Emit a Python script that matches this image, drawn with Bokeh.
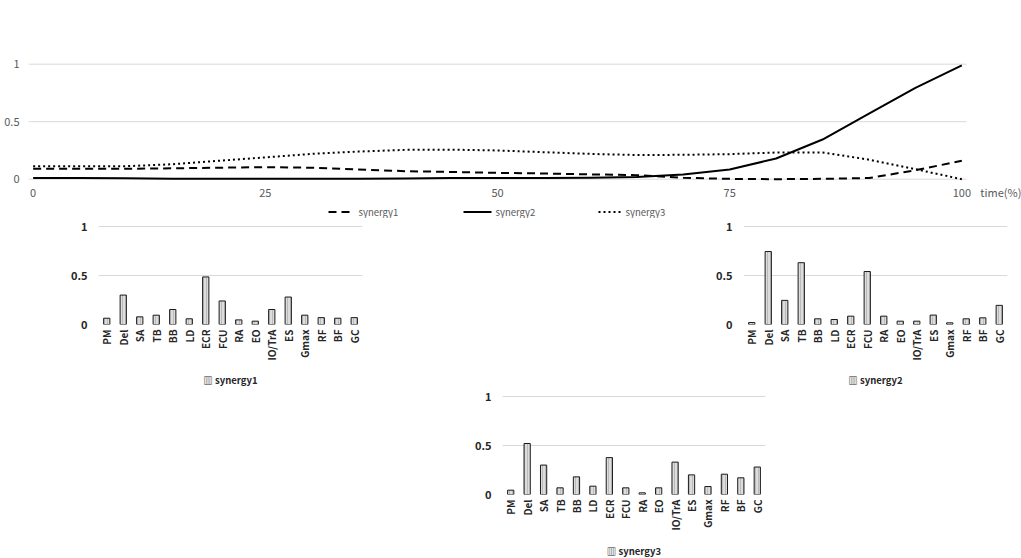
import math
from bokeh.plotting import figure
from bokeh.models import (Range1d, FactorRange, FixedTicker, CustomJSTickFormatter)
from bokeh.layouts import column, row
from bokeh.embed import file_html
from bokeh.resources import INLINE
from bokeh.core.properties import value

# ---------------- data ----------------
time_pct = [0, 5, 10, 15, 20, 25, 30, 35, 40, 45, 50, 55, 60, 65, 70, 75, 80, 85, 90, 95, 100]
synergy1_curve = [0.09, 0.09, 0.09, 0.095, 0.10, 0.105, 0.10, 0.085, 0.07, 0.063, 0.055,
                  0.05, 0.042, 0.035, 0.012, 0.003, 0.0, 0.003, 0.01, 0.078, 0.16]
synergy2_curve = [0.01, 0.01, 0.008, 0.005, 0.005, 0.005, 0.005, 0.005, 0.006, 0.01, 0.01,
                  0.01, 0.012, 0.02, 0.04, 0.085, 0.18, 0.345, 0.57, 0.795, 0.99]
synergy3_curve = [0.113, 0.113, 0.113, 0.13, 0.16, 0.19, 0.22, 0.24, 0.255, 0.257, 0.25,
                  0.235, 0.22, 0.21, 0.212, 0.218, 0.232, 0.232, 0.17, 0.087, 0.0]
time_ticks = [0, 25, 50, 75, 100]
time_title = "time(%)"
weight_ticks = [0, 0.5, 1]
series_names = ["synergy1", "synergy2", "synergy3"]

muscles = ["PM", "Del", "SA", "TB", "BB", "LD", "ECR", "FCU", "RA", "EO",
           "IO/TrA", "ES", "Gmax", "RF", "BF", "GC"]
synergy1_weights = [0.064, 0.30, 0.078, 0.095, 0.153, 0.058, 0.485, 0.24, 0.047, 0.034,
                    0.153, 0.28, 0.095, 0.07, 0.064, 0.07]
synergy2_weights = [0.02, 0.744, 0.246, 0.63, 0.058, 0.051, 0.085, 0.54, 0.085, 0.034,
                    0.034, 0.096, 0.017, 0.058, 0.068, 0.195]
synergy3_weights = [0.044, 0.52, 0.30, 0.068, 0.18, 0.085, 0.376, 0.068, 0.017, 0.068,
                    0.33, 0.20, 0.081, 0.207, 0.17, 0.28]

# ---------------- styles / layout constants ----------------
FONT = "Noto Sans CJK JP"
GRID = "#d9d9d9"
DASHES = ["8 5", "solid", "2 3"]
LEG_SAMPLE_X0 = [300, 435, 570]     # legend sample starts (px inside legend strip)
LEG_SAMPLE_LEN = [26, 28, 23]
LEG_TEXT_GAP = 4
LEG_Y = 6.5


def style_axis(ax, color, size, bold=False):
    ax.axis_line_color = None
    ax.major_tick_line_color = None
    ax.minor_tick_line_color = None
    ax.major_tick_out = 0
    ax.major_tick_in = 0
    ax.major_label_text_color = color
    ax.major_label_text_font = FONT
    ax.major_label_text_font_size = size
    if bold:
        ax.major_label_text_font_style = "bold"


# ---------------- top time-series chart ----------------
PX_PER_T = 9.287
FRAME_W = 993
x_end = FRAME_W / PX_PER_T - 0.5
top = figure(frame_width=FRAME_W, frame_height=120, min_border_left=28, min_border_right=0,
             min_border_top=61, min_border_bottom=18,
             x_range=Range1d(-0.5, x_end), y_range=Range1d(-0.02, 1.0235),
             output_backend="svg", toolbar_location=None, outline_line_color=None)
curves = [synergy1_curve, synergy2_curve, synergy3_curve]
for ys, dash in zip(curves, DASHES):
    top.line(time_pct, ys, line_color="black", line_width=2, line_dash=dash,
             line_join="round")

# gridlines limited to the time span
top.segment(x0=[time_pct[0] - 0.5] * len(weight_ticks), x1=[time_pct[-1] + 0.5] * len(weight_ticks),
            y0=weight_ticks, y1=weight_ticks, line_color=GRID, line_width=1, level="underlay")
top.grid.visible = False

title_pos = time_pct[-1] + 4.2
top.xaxis.ticker = FixedTicker(ticks=time_ticks + [title_pos])
top.xaxis.formatter = CustomJSTickFormatter(
    args=dict(title=time_title, tmax=time_pct[-1]),
    code="return tick > tmax ? title : tick.toString()")
top.yaxis.ticker = FixedTicker(ticks=weight_ticks)
top.yaxis.formatter = CustomJSTickFormatter(code="return tick.toString()")
style_axis(top.xaxis[0], "#595959", "11px")
style_axis(top.yaxis[0], "#595959", "11px")
top.xaxis.major_label_standoff = 2
top.yaxis.major_label_standoff = 9

# ---------------- legend strip for the top chart ----------------
leg = figure(frame_width=FRAME_W, frame_height=16, min_border_left=28, min_border_right=0,
             min_border_top=0, min_border_bottom=0,
             x_range=Range1d(0, FRAME_W), y_range=Range1d(0, 16),
             output_backend="svg", toolbar_location=None, outline_line_color=None)
leg.axis.visible = False
leg.grid.visible = False
for x0, ln, dash in zip(LEG_SAMPLE_X0, LEG_SAMPLE_LEN, DASHES):
    leg.line([x0, x0 + ln], [LEG_Y, LEG_Y], line_color="black", line_width=2, line_dash=dash)
leg.text(x=[x0 + ln + LEG_TEXT_GAP for x0, ln in zip(LEG_SAMPLE_X0, LEG_SAMPLE_LEN)],
         y=[LEG_Y] * 3, text=series_names, text_font=value(FONT), text_font_size="9.5px",
         text_color="#595959", text_baseline="middle", text_align="left")


# ---------------- bar charts ----------------
def bar_chart(weights, name, left, right, top_b, bottom_b, frame_w, y_end, std, lab_std):
    fh = round(98 * y_end)
    p = figure(x_range=FactorRange(*muscles), y_range=Range1d(0, y_end),
               frame_width=frame_w, frame_height=fh,
               min_border_left=left, min_border_right=right,
               min_border_top=top_b, min_border_bottom=bottom_b,
               output_backend="svg", toolbar_location=None, outline_line_color=None)
    p.vbar(x=muscles, top=weights, width=0.38, fill_color="#dcdcdc",
           hatch_pattern="vertical_line", hatch_color="#8c8c8c", hatch_scale=3,
           hatch_weight=0.6, hatch_alpha=0.7,
           line_color="#1a1a1a", line_width=1)
    p.yaxis.ticker = FixedTicker(ticks=weight_ticks)
    p.yaxis.formatter = CustomJSTickFormatter(code="return tick.toString()")
    style_axis(p.xaxis[0], "#262626", "10px", bold=True)
    style_axis(p.yaxis[0], "#262626", "11px", bold=True)
    p.xaxis.major_label_orientation = math.pi / 2
    p.xaxis.major_label_standoff = std
    p.yaxis.major_label_standoff = 11
    p.xaxis.axis_label = "\u25a5 " + name
    p.xaxis.axis_label_standoff = lab_std
    p.xaxis.axis_label_text_font = FONT
    p.xaxis.axis_label_text_font_size = "9.5px"
    p.xaxis.axis_label_text_font_style = "bold"
    p.xaxis.axis_label_text_color = "#262626"
    p.xgrid.visible = False
    p.ygrid.ticker = FixedTicker(ticks=weight_ticks)
    p.ygrid.grid_line_color = GRID
    return p


c1 = bar_chart(synergy1_weights, series_names[0], 98, 10, 3, 62, 264, 1.05, 5, 9)
c2 = bar_chart(synergy2_weights, series_names[1], 371, 13, 3, 62, 264, 1.05, 5, 9)
c3 = bar_chart(synergy3_weights, series_names[2], 502, 10, 3, 62, 263, 1.04, 5, 10)

layout = column(top, leg, row(c1, c2), row(c3))

open("out.html", "w").write(file_html(layout, INLINE))
